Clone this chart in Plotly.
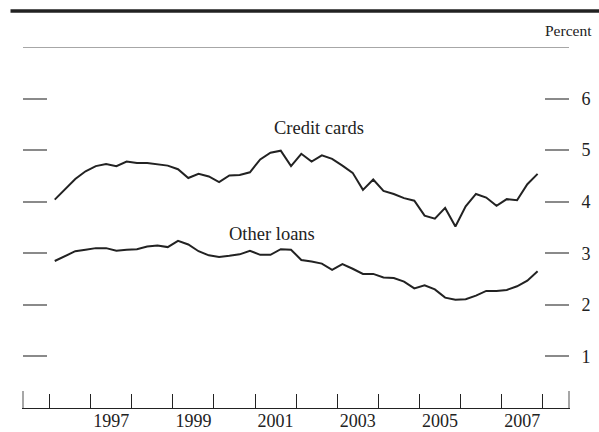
import plotly.graph_objects as go

quarters = [1996 + i / 4 + 0.125 for i in range(48)]

credit_cards = [4.04, 4.25, 4.44, 4.59, 4.69, 4.73, 4.69, 4.78, 4.75, 4.75, 4.72, 4.70,
                4.63, 4.46, 4.54, 4.49, 4.38, 4.51, 4.52, 4.57, 4.82, 4.95, 4.99, 4.69,
                4.93, 4.78, 4.90, 4.83, 4.70, 4.56, 4.23, 4.43, 4.21, 4.15, 4.07, 4.02,
                3.73, 3.67, 3.88, 3.52, 3.91, 4.15, 4.08, 3.92, 4.05, 4.03, 4.34, 4.54]

other_loans = [2.85, 2.94, 3.04, 3.07, 3.10, 3.10, 3.05, 3.07, 3.08, 3.13, 3.15, 3.12,
               3.24, 3.17, 3.04, 2.96, 2.93, 2.95, 2.98, 3.05, 2.97, 2.97, 3.08, 3.07,
               2.87, 2.84, 2.80, 2.68, 2.79, 2.70, 2.60, 2.60, 2.53, 2.52, 2.45, 2.32,
               2.38, 2.30, 2.14, 2.10, 2.11, 2.18, 2.27, 2.27, 2.29, 2.36, 2.47, 2.65]

year_bounds = list(range(1996, 2009))
year_label_pos = [1997.5, 1999.5, 2001.5, 2003.5, 2005.5, 2007.5]
year_labels = ["1997", "1999", "2001", "2003", "2005", "2007"]
y_ticks = [1, 2, 3, 4, 5, 6]

FONT = "Liberation Serif, Times New Roman, serif"
INK = "#222222"
GRAY = "#8a8a8a"
XR = [1995.353, 2008.639]

fig = go.Figure()
fig.add_trace(go.Scatter(x=quarters, y=credit_cards, mode="lines",
                         line=dict(color=INK, width=2), showlegend=False))
fig.add_trace(go.Scatter(x=quarters, y=other_loans, mode="lines",
                         line=dict(color=INK, width=2), showlegend=False))
# invisible trace to bind xaxis2 for year labels
fig.add_trace(go.Scatter(x=[XR[0]], y=[None], xaxis="x2", yaxis="y",
                         mode="lines", showlegend=False, hoverinfo="skip"))

fig.update_layout(
    width=599, height=432,
    margin=dict(l=23, r=30, t=47, b=24, autoexpand=False),
    paper_bgcolor="white", plot_bgcolor="white",
    font=dict(family=FONT, color=INK, size=18),
    xaxis=dict(range=XR, tickvals=year_bounds, ticktext=[""] * len(year_bounds),
               ticks="inside", ticklen=14, tickcolor=INK, tickwidth=1,
               showline=True, linecolor=INK, linewidth=1.2, automargin=False,
               showgrid=False, zeroline=False),
    xaxis2=dict(range=XR, overlaying="x", anchor="y", side="bottom",
                tickvals=year_label_pos, ticktext=year_labels, automargin=False,
                ticks="", showline=False, showgrid=False, zeroline=False,
                tickfont=dict(family=FONT, size=18, color=INK)),
    yaxis=dict(range=[0, 7], tickvals=y_ticks, side="right", automargin=False,
               ticks="inside", ticklen=24, tickcolor=GRAY, tickwidth=1.5,
               mirror="ticks", showline=True, linecolor="rgba(0,0,0,0)",
               showgrid=False, zeroline=False, ticklabelstandoff=8,
               tickfont=dict(family=FONT, size=18, color=INK)),
    shapes=[
        dict(type="line", xref="paper", yref="paper", x0=-0.0229, x1=1.06,
             y0=1.0997, y1=1.0997, line=dict(color=INK, width=3.5)),
        dict(type="line", xref="x domain", yref="y", x0=0, x1=1, y0=7, y1=7,
             line=dict(color=GRAY, width=1.5)),
        dict(type="line", xref="x domain", yref="y", x0=0, x1=0, y0=0, y1=0.33,
             line=dict(color=GRAY, width=1.5)),
        dict(type="line", xref="x domain", yref="y", x0=1, x1=1, y0=0, y1=0.33,
             line=dict(color=GRAY, width=1.5)),
    ],
    annotations=[
        dict(text="Credit cards", x=2002.56, y=5.42, xref="x", yref="y",
             showarrow=False, font=dict(size=18.5, family=FONT, color=INK)),
        dict(text="Other loans", x=2001.41, y=3.38, xref="x", yref="y",
             showarrow=False, font=dict(size=18.5, family=FONT, color=INK)),
        dict(text="Percent", x=1.0458, y=1.047, xref="paper", yref="paper",
             xanchor="right", yanchor="middle", showarrow=False,
             font=dict(size=15.5, family=FONT, color=INK)),
    ],
)

fig.write_html("out.html", config={"displayModeBar": False},
               post_script="document.body.style.margin='0';")
